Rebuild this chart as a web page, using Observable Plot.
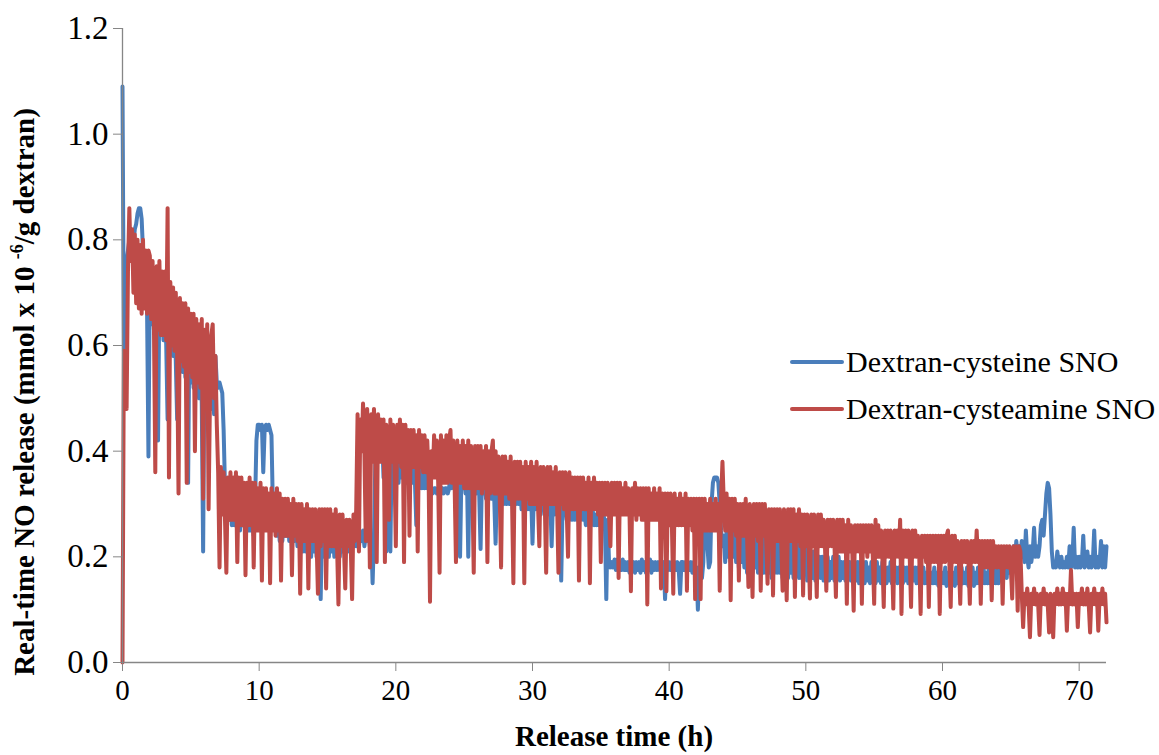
<!DOCTYPE html>
<html>
<head>
<meta charset="utf-8">
<script src="https://cdn.jsdelivr.net/npm/d3@7"></script>
<script src="https://cdn.jsdelivr.net/npm/@observablehq/plot@0.6"></script>
<style>
  html, body { margin: 0; padding: 0; background: #fff; }
  #chart { width: 1159px; height: 755px; }
</style>
</head>
<body>
<div id="chart"></div>
<script>
// Real-time NO release, logged every 0.1 h. Each inner array is one hour
// (readings at h.0, h.1 ... h.9); the last array holds the 72.0 h reading.
const SAMPLES_PER_HOUR = 10;

const cysteineSNO = [
  [1.09, 0.59, 0.70, 0.76, 0.78, 0.80, 0.79, 0.81, 0.79, 0.82],
  [0.83, 0.85, 0.86, 0.86, 0.84, 0.78, 0.70, 0.76, 0.66, 0.39],
  [0.74, 0.64, 0.73, 0.63, 0.72, 0.62, 0.42, 0.71, 0.62, 0.70],
  [0.61, 0.70, 0.60, 0.46, 0.69, 0.59, 0.69, 0.58, 0.68, 0.57],
  [0.46, 0.67, 0.56, 0.66, 0.55, 0.66, 0.54, 0.65, 0.34, 0.64],
  [0.53, 0.64, 0.52, 0.63, 0.51, 0.62, 0.50, 0.61, 0.49, 0.21],
  [0.60, 0.49, 0.59, 0.48, 0.58, 0.48, 0.57, 0.47, 0.58, 0.53],
  [0.52, 0.53, 0.52, 0.51, 0.44, 0.33, 0.30, 0.34, 0.27, 0.33],
  [0.26, 0.33, 0.26, 0.32, 0.26, 0.33, 0.25, 0.32, 0.26, 0.32],
  [0.25, 0.31, 0.25, 0.31, 0.25, 0.30, 0.24, 0.30, 0.42, 0.45],
  [0.45, 0.44, 0.45, 0.36, 0.44, 0.45, 0.44, 0.45, 0.44, 0.43],
  [0.30, 0.27, 0.31, 0.24, 0.30, 0.23, 0.30, 0.23, 0.29, 0.24],
  [0.24, 0.29, 0.23, 0.29, 0.22, 0.28, 0.23, 0.28, 0.22, 0.28],
  [0.22, 0.27, 0.21, 0.28, 0.21, 0.27, 0.22, 0.27, 0.20, 0.27],
  [0.21, 0.27, 0.20, 0.26, 0.21, 0.12, 0.26, 0.20, 0.26, 0.21],
  [0.26, 0.20, 0.26, 0.21, 0.25, 0.20, 0.25, 0.21, 0.25, 0.20],
  [0.25, 0.21, 0.24, 0.21, 0.24, 0.21, 0.24, 0.22, 0.24, 0.22],
  [0.24, 0.22, 0.25, 0.22, 0.24, 0.23, 0.25, 0.22, 0.24, 0.23],
  [0.25, 0.22, 0.24, 0.15, 0.24, 0.38, 0.42, 0.40, 0.43, 0.39],
  [0.42, 0.35, 0.41, 0.21, 0.41, 0.35, 0.21, 0.41, 0.34, 0.41],
  [0.35, 0.41, 0.34, 0.40, 0.35, 0.40, 0.34, 0.40, 0.34, 0.40],
  [0.34, 0.40, 0.34, 0.39, 0.34, 0.26, 0.39, 0.33, 0.39, 0.33],
  [0.39, 0.33, 0.38, 0.33, 0.37, 0.33, 0.33, 0.32, 0.33, 0.33],
  [0.32, 0.33, 0.33, 0.32, 0.33, 0.32, 0.33, 0.33, 0.32, 0.33],
  [0.36, 0.33, 0.37, 0.33, 0.36, 0.33, 0.36, 0.20, 0.36, 0.33],
  [0.36, 0.32, 0.36, 0.20, 0.36, 0.32, 0.35, 0.32, 0.35, 0.32],
  [0.35, 0.32, 0.215, 0.35, 0.32, 0.35, 0.31, 0.35, 0.31, 0.34],
  [0.31, 0.34, 0.31, 0.225, 0.34, 0.31, 0.34, 0.31, 0.34, 0.30],
  [0.33, 0.30, 0.33, 0.30, 0.30, 0.30, 0.30, 0.33, 0.30, 0.33],
  [0.30, 0.33, 0.29, 0.32, 0.29, 0.32, 0.29, 0.32, 0.29, 0.32],
  [0.225, 0.32, 0.29, 0.32, 0.29, 0.32, 0.28, 0.31, 0.29, 0.31],
  [0.28, 0.31, 0.28, 0.31, 0.22, 0.31, 0.28, 0.31, 0.28, 0.30],
  [0.28, 0.155, 0.30, 0.28, 0.30, 0.27, 0.30, 0.27, 0.30, 0.27],
  [0.30, 0.27, 0.30, 0.27, 0.29, 0.27, 0.29, 0.27, 0.29, 0.26],
  [0.29, 0.26, 0.29, 0.26, 0.29, 0.26, 0.28, 0.26, 0.28, 0.26],
  [0.28, 0.26, 0.28, 0.26, 0.12, 0.27, 0.19, 0.18, 0.19, 0.18],
  [0.195, 0.175, 0.195, 0.175, 0.19, 0.175, 0.195, 0.175, 0.19, 0.175],
  [0.19, 0.17, 0.195, 0.175, 0.19, 0.17, 0.19, 0.175, 0.19, 0.17],
  [0.195, 0.175, 0.19, 0.17, 0.19, 0.175, 0.195, 0.17, 0.19, 0.175],
  [0.19, 0.175, 0.19, 0.175, 0.19, 0.175, 0.19, 0.12, 0.19, 0.175],
  [0.19, 0.175, 0.19, 0.175, 0.19, 0.175, 0.19, 0.175, 0.13, 0.19],
  [0.19, 0.175, 0.19, 0.17, 0.19, 0.175, 0.19, 0.17, 0.19, 0.175],
  [0.18, 0.10, 0.17, 0.19, 0.16, 0.19, 0.30, 0.28, 0.22, 0.18],
  [0.19, 0.30, 0.34, 0.35, 0.35, 0.35, 0.34, 0.30, 0.25, 0.22],
  [0.24, 0.19, 0.25, 0.20, 0.25, 0.19, 0.26, 0.20, 0.25, 0.19],
  [0.25, 0.18, 0.25, 0.19, 0.24, 0.18, 0.25, 0.17, 0.24, 0.18],
  [0.24, 0.17, 0.25, 0.18, 0.24, 0.17, 0.24, 0.18, 0.24, 0.17],
  [0.24, 0.17, 0.24, 0.17, 0.23, 0.16, 0.24, 0.17, 0.23, 0.17],
  [0.23, 0.17, 0.24, 0.16, 0.23, 0.17, 0.23, 0.16, 0.23, 0.17],
  [0.23, 0.16, 0.22, 0.17, 0.23, 0.16, 0.22, 0.16, 0.22, 0.17],
  [0.22, 0.155, 0.22, 0.16, 0.21, 0.16, 0.21, 0.155, 0.21, 0.16],
  [0.20, 0.16, 0.20, 0.155, 0.20, 0.16, 0.20, 0.155, 0.19, 0.16],
  [0.20, 0.155, 0.19, 0.16, 0.20, 0.155, 0.19, 0.16, 0.19, 0.155],
  [0.19, 0.16, 0.19, 0.155, 0.19, 0.15, 0.19, 0.155, 0.19, 0.15],
  [0.19, 0.155, 0.19, 0.15, 0.19, 0.155, 0.18, 0.15, 0.19, 0.155],
  [0.19, 0.15, 0.19, 0.155, 0.18, 0.15, 0.19, 0.155, 0.18, 0.15],
  [0.18, 0.155, 0.19, 0.15, 0.18, 0.155, 0.18, 0.15, 0.18, 0.155],
  [0.18, 0.15, 0.18, 0.155, 0.18, 0.15, 0.18, 0.15, 0.18, 0.155],
  [0.18, 0.15, 0.18, 0.15, 0.18, 0.155, 0.18, 0.15, 0.17, 0.15],
  [0.18, 0.15, 0.17, 0.15, 0.18, 0.15, 0.17, 0.145, 0.18, 0.15],
  [0.17, 0.15, 0.18, 0.145, 0.17, 0.15, 0.18, 0.15, 0.17, 0.145],
  [0.18, 0.15, 0.17, 0.145, 0.18, 0.15, 0.17, 0.15, 0.18, 0.145],
  [0.17, 0.15, 0.18, 0.145, 0.17, 0.15, 0.18, 0.15, 0.17, 0.15],
  [0.18, 0.15, 0.17, 0.15, 0.18, 0.15, 0.18, 0.15, 0.18, 0.15],
  [0.18, 0.15, 0.19, 0.155, 0.19, 0.16, 0.20, 0.16, 0.21, 0.17],
  [0.21, 0.18, 0.22, 0.19, 0.23, 0.20, 0.22, 0.20, 0.23, 0.21],
  [0.19, 0.25, 0.20, 0.18, 0.22, 0.19, 0.21, 0.255, 0.20, 0.22],
  [0.20, 0.22, 0.26, 0.27, 0.24, 0.28, 0.32, 0.34, 0.33, 0.28],
  [0.21, 0.18, 0.19, 0.18, 0.21, 0.19, 0.18, 0.20, 0.18, 0.19],
  [0.18, 0.20, 0.18, 0.22, 0.18, 0.19, 0.255, 0.18, 0.20, 0.18],
  [0.20, 0.18, 0.19, 0.24, 0.18, 0.19, 0.21, 0.18, 0.20, 0.18],
  [0.19, 0.25, 0.18, 0.20, 0.18, 0.19, 0.23, 0.18, 0.22, 0.18],
  [0.22]
];

const cysteamineSNO = [
  [0.00, 0.59, 0.57, 0.48, 0.74, 0.86, 0.76, 0.82, 0.70, 0.81],
  [0.68, 0.80, 0.67, 0.79, 0.66, 0.80, 0.67, 0.78, 0.66, 0.78],
  [0.77, 0.65, 0.76, 0.64, 0.36, 0.75, 0.63, 0.76, 0.62, 0.74],
  [0.62, 0.74, 0.61, 0.86, 0.35, 0.72, 0.60, 0.71, 0.59, 0.70],
  [0.58, 0.32, 0.69, 0.57, 0.68, 0.56, 0.68, 0.34, 0.67, 0.55],
  [0.66, 0.54, 0.66, 0.40, 0.65, 0.53, 0.64, 0.52, 0.65, 0.31],
  [0.63, 0.51, 0.64, 0.29, 0.50, 0.62, 0.64, 0.50, 0.58, 0.45],
  [0.36, 0.18, 0.37, 0.28, 0.36, 0.27, 0.17, 0.35, 0.27, 0.36],
  [0.27, 0.35, 0.27, 0.36, 0.19, 0.35, 0.26, 0.35, 0.26, 0.34],
  [0.165, 0.34, 0.26, 0.35, 0.26, 0.34, 0.18, 0.34, 0.25, 0.33],
  [0.25, 0.34, 0.155, 0.33, 0.25, 0.33, 0.25, 0.32, 0.15, 0.33],
  [0.25, 0.32, 0.24, 0.33, 0.25, 0.32, 0.155, 0.31, 0.24, 0.31],
  [0.24, 0.31, 0.24, 0.30, 0.165, 0.31, 0.24, 0.30, 0.23, 0.30],
  [0.13, 0.30, 0.23, 0.29, 0.23, 0.30, 0.14, 0.29, 0.23, 0.29],
  [0.23, 0.29, 0.23, 0.13, 0.29, 0.22, 0.29, 0.23, 0.29, 0.14],
  [0.29, 0.22, 0.29, 0.22, 0.28, 0.22, 0.29, 0.22, 0.11, 0.28],
  [0.22, 0.28, 0.22, 0.14, 0.27, 0.22, 0.27, 0.22, 0.12, 0.28],
  [0.23, 0.29, 0.47, 0.21, 0.46, 0.40, 0.49, 0.40, 0.23, 0.48],
  [0.39, 0.18, 0.47, 0.38, 0.48, 0.38, 0.19, 0.47, 0.38, 0.46],
  [0.38, 0.46, 0.19, 0.45, 0.38, 0.27, 0.46, 0.38, 0.45, 0.37],
  [0.22, 0.45, 0.38, 0.46, 0.37, 0.45, 0.19, 0.45, 0.37, 0.44],
  [0.24, 0.44, 0.37, 0.44, 0.37, 0.43, 0.21, 0.44, 0.37, 0.43],
  [0.36, 0.43, 0.36, 0.42, 0.35, 0.115, 0.40, 0.35, 0.43, 0.35],
  [0.42, 0.34, 0.17, 0.43, 0.34, 0.42, 0.34, 0.43, 0.34, 0.42],
  [0.44, 0.34, 0.42, 0.34, 0.19, 0.42, 0.34, 0.41, 0.34, 0.42],
  [0.33, 0.41, 0.33, 0.42, 0.33, 0.41, 0.33, 0.17, 0.41, 0.33],
  [0.41, 0.33, 0.41, 0.32, 0.40, 0.33, 0.41, 0.19, 0.40, 0.32],
  [0.40, 0.42, 0.32, 0.40, 0.32, 0.39, 0.32, 0.18, 0.39, 0.32],
  [0.39, 0.32, 0.38, 0.31, 0.39, 0.31, 0.15, 0.38, 0.31, 0.38],
  [0.31, 0.38, 0.31, 0.37, 0.15, 0.38, 0.31, 0.37, 0.30, 0.38],
  [0.30, 0.37, 0.30, 0.38, 0.30, 0.22, 0.37, 0.30, 0.37, 0.30],
  [0.17, 0.37, 0.30, 0.37, 0.30, 0.36, 0.30, 0.37, 0.30, 0.17],
  [0.36, 0.30, 0.36, 0.29, 0.36, 0.29, 0.20, 0.36, 0.29, 0.35],
  [0.29, 0.35, 0.29, 0.35, 0.155, 0.35, 0.29, 0.35, 0.29, 0.34],
  [0.29, 0.35, 0.15, 0.34, 0.29, 0.35, 0.29, 0.34, 0.28, 0.34],
  [0.19, 0.34, 0.28, 0.34, 0.28, 0.34, 0.28, 0.22, 0.34, 0.28],
  [0.34, 0.28, 0.34, 0.16, 0.34, 0.28, 0.33, 0.28, 0.34, 0.28],
  [0.33, 0.28, 0.135, 0.33, 0.28, 0.34, 0.27, 0.33, 0.28, 0.33],
  [0.27, 0.33, 0.27, 0.33, 0.11, 0.33, 0.27, 0.32, 0.27, 0.33],
  [0.27, 0.32, 0.27, 0.33, 0.14, 0.32, 0.27, 0.32, 0.135, 0.32],
  [0.26, 0.32, 0.26, 0.13, 0.32, 0.26, 0.31, 0.26, 0.32, 0.26],
  [0.31, 0.26, 0.32, 0.136, 0.31, 0.26, 0.31, 0.25, 0.31, 0.12],
  [0.31, 0.25, 0.31, 0.12, 0.31, 0.25, 0.31, 0.25, 0.30, 0.25],
  [0.31, 0.25, 0.30, 0.25, 0.31, 0.25, 0.30, 0.136, 0.31, 0.38],
  [0.30, 0.25, 0.32, 0.25, 0.31, 0.118, 0.31, 0.25, 0.31, 0.24],
  [0.30, 0.155, 0.30, 0.24, 0.30, 0.24, 0.31, 0.24, 0.143, 0.30],
  [0.24, 0.124, 0.30, 0.24, 0.30, 0.23, 0.30, 0.136, 0.30, 0.24],
  [0.30, 0.23, 0.149, 0.29, 0.23, 0.29, 0.127, 0.29, 0.23, 0.29],
  [0.23, 0.29, 0.23, 0.136, 0.29, 0.23, 0.118, 0.29, 0.23, 0.29],
  [0.23, 0.29, 0.124, 0.28, 0.23, 0.29, 0.22, 0.28, 0.127, 0.28],
  [0.22, 0.28, 0.22, 0.121, 0.28, 0.22, 0.28, 0.22, 0.124, 0.28],
  [0.22, 0.28, 0.22, 0.27, 0.22, 0.136, 0.27, 0.22, 0.27, 0.22],
  [0.27, 0.22, 0.124, 0.27, 0.21, 0.27, 0.21, 0.27, 0.21, 0.26],
  [0.111, 0.27, 0.21, 0.26, 0.21, 0.098, 0.26, 0.21, 0.26, 0.21],
  [0.26, 0.111, 0.26, 0.21, 0.26, 0.20, 0.26, 0.21, 0.26, 0.20],
  [0.111, 0.27, 0.20, 0.26, 0.20, 0.25, 0.20, 0.105, 0.25, 0.20],
  [0.25, 0.20, 0.25, 0.20, 0.102, 0.25, 0.20, 0.25, 0.20, 0.27],
  [0.092, 0.25, 0.20, 0.25, 0.20, 0.25, 0.20, 0.105, 0.25, 0.20],
  [0.25, 0.20, 0.24, 0.20, 0.092, 0.24, 0.20, 0.24, 0.19, 0.24],
  [0.105, 0.24, 0.19, 0.24, 0.19, 0.24, 0.19, 0.24, 0.092, 0.24],
  [0.19, 0.24, 0.19, 0.24, 0.25, 0.19, 0.105, 0.24, 0.19, 0.24],
  [0.19, 0.23, 0.19, 0.111, 0.23, 0.19, 0.23, 0.19, 0.23, 0.19],
  [0.111, 0.23, 0.19, 0.23, 0.19, 0.25, 0.19, 0.23, 0.111, 0.23],
  [0.18, 0.23, 0.18, 0.23, 0.18, 0.23, 0.118, 0.23, 0.18, 0.22],
  [0.18, 0.22, 0.18, 0.22, 0.111, 0.22, 0.18, 0.22, 0.18, 0.22],
  [0.18, 0.121, 0.22, 0.18, 0.22, 0.098, 0.22, 0.21, 0.13, 0.067],
  [0.13, 0.11, 0.14, 0.11, 0.048, 0.13, 0.11, 0.14, 0.11, 0.13],
  [0.11, 0.052, 0.13, 0.11, 0.14, 0.11, 0.13, 0.11, 0.057, 0.13],
  [0.11, 0.048, 0.13, 0.11, 0.14, 0.11, 0.13, 0.11, 0.14, 0.11],
  [0.13, 0.06, 0.13, 0.11, 0.175, 0.11, 0.13, 0.11, 0.13, 0.067],
  [0.13, 0.11, 0.14, 0.11, 0.13, 0.11, 0.14, 0.11, 0.057, 0.13],
  [0.11, 0.14, 0.11, 0.13, 0.06, 0.13, 0.11, 0.14, 0.11, 0.13],
  [0.076]
];

const seriesNames = ["Dextran-cysteine SNO", "Dextran-cysteamine SNO"];
const seriesColors = ["#4a7ebb", "#be4b48"];
const xTicks = [0, 10, 20, 30, 40, 50, 60, 70];
const yTicks = [0, 0.2, 0.4, 0.6, 0.8, 1.0, 1.2];

// Flatten hour rows into {t, v, name} readings; t = hour + sample / 10.
function readings(hours, name) {
  return hours.flatMap((row, h) =>
    row.map((v, j) => ({ t: h + j / SAMPLES_PER_HOUR, v, name })));
}
const data = [
  ...readings(cysteineSNO, seriesNames[0]),
  ...readings(cysteamineSNO, seriesNames[1])
];

const serif = '"Liberation Serif", "Times New Roman", serif';
const axisGrey = "#868686";

const chart = Plot.plot({
  width: 1159,
  height: 755,
  marginLeft: 122,
  marginRight: 53,
  marginTop: 28,
  marginBottom: 93,
  style: { fontFamily: serif, background: "#fff", color: "#000", overflow: "visible" },
  x: { domain: [0, 72], label: null },
  y: { domain: [0, 1.2], label: null },
  color: { domain: seriesNames, range: seriesColors },
  marks: [
    Plot.line(data, {
      x: "t", y: "v", z: "name", stroke: "name",
      strokeWidth: 4, strokeLinejoin: "round", strokeLinecap: "round", curve: "linear"
    }),
    Plot.ruleX([0], { stroke: axisGrey, strokeWidth: 1.3 }),
    Plot.ruleY([0], { stroke: axisGrey, strokeWidth: 1.3 }),
    Plot.axisX({
      ticks: xTicks, tickFormat: d => String(d), tickSize: 9, tickPadding: 8,
      stroke: axisGrey, fill: "#000", fontSize: 29, label: null
    }),
    Plot.axisY({
      ticks: yTicks, tickFormat: d3.format(".1f"), tickSize: 9, tickPadding: 5,
      stroke: axisGrey, fill: "#000", fontSize: 33, label: null
    })
  ]
});

document.getElementById("chart").appendChild(chart);

const svg = d3.select(chart);

// Axis titles
svg.append("text")
  .attr("x", 614).attr("y", 746)
  .attr("text-anchor", "middle")
  .attr("font-family", serif).attr("font-size", 29).attr("font-weight", "bold")
  .attr("fill", "#000")
  .text("Release time (h)");

const yTitle = svg.append("text")
  .attr("transform", "translate(34,392) rotate(-90)")
  .attr("text-anchor", "middle")
  .attr("font-family", serif).attr("font-size", 29).attr("font-weight", "bold")
  .attr("fill", "#000");
yTitle.append("tspan").text("Real-time NO release (mmol x 10 ");
yTitle.append("tspan").attr("font-size", 18).attr("dy", -11).text("-6");
yTitle.append("tspan").attr("dy", 11).text("/g dextran)");

// Legend
const legend = svg.append("g")
  .attr("font-family", serif).attr("font-size", 30).attr("fill", "#000")
  .attr("text-anchor", "start");
seriesNames.forEach((name, i) => {
  const y = 362 + i * 47;
  legend.append("line")
    .attr("x1", 792).attr("x2", 842).attr("y1", y).attr("y2", y)
    .attr("stroke", seriesColors[i]).attr("stroke-width", 4)
    .attr("stroke-linecap", "round");
  legend.append("text")
    .attr("x", 846).attr("y", y).attr("dy", "0.33em")
    .attr("text-anchor", "start")
    .text(name);
});
</script>
</body>
</html>
